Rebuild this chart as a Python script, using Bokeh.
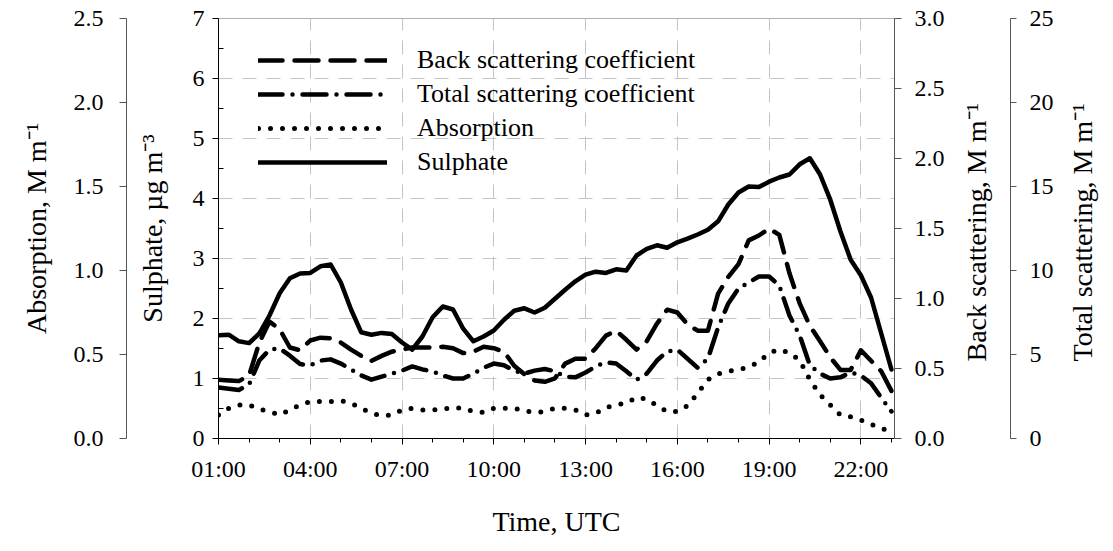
import math
from bokeh.plotting import figure
from bokeh.models import (Range1d, LinearAxis, FixedTicker, PrintfTickFormatter,
                          Legend, LegendItem)
from bokeh.embed import file_html
from bokeh.resources import INLINE

FONT = "Liberation Serif"
TICK_FS = "24px"
TITLE_FS = "28px"
LEGEND_FS = "26px"
PAD = "\u00a0" * 11   # shifts the bottom-anchored right titles up to the middle

# sampling grid: every 20 minutes from 01:00 to 23:00 (hours)
time_h = [1 + k / 3 for k in range(67)]

tick_hours = [1, 4, 7, 10, 13, 16, 19, 22]
tick_labels = ["01:00", "04:00", "07:00", "10:00", "13:00", "16:00", "19:00", "22:00"]

# Sulphate, ug m-3
sulphate = [1.72, 1.73, 1.62, 1.59, 1.75, 2.05, 2.42, 2.67, 2.75, 2.76, 2.87, 2.90,
            2.60, 2.15, 1.77, 1.73, 1.76, 1.74, 1.60, 1.48, 1.70, 2.02, 2.20, 2.15,
            1.83, 1.62, 1.70, 1.80, 1.98, 2.13, 2.17, 2.10, 2.18, 2.33, 2.48, 2.62,
            2.73, 2.78, 2.76, 2.82, 2.80, 3.05, 3.16, 3.22, 3.18, 3.27, 3.33, 3.40,
            3.48, 3.62, 3.90, 4.10, 4.20, 4.19, 4.28, 4.35, 4.40, 4.57, 4.67, 4.40,
            3.98, 3.45, 2.98, 2.72, 2.35, 1.75, 1.15]

# Back scattering, M m-1
back_scat = [0.42, 0.415, 0.41, 0.45, 0.685, 0.835, 0.78, 0.65, 0.63, 0.70, 0.72, 0.715,
             0.685, 0.635, 0.59, 0.555, 0.59, 0.62, 0.635, 0.65, 0.65, 0.65, 0.655, 0.645,
             0.61, 0.62, 0.655, 0.645, 0.62, 0.52, 0.46, 0.415, 0.405, 0.43, 0.535, 0.57,
             0.57, 0.645, 0.735, 0.77, 0.705, 0.635, 0.695, 0.82, 0.92, 0.90, 0.815, 0.77,
             0.77, 1.035, 1.155, 1.245, 1.415, 1.45, 1.50, 1.455, 1.18, 0.965, 0.805, 0.695,
             0.58, 0.49, 0.49, 0.63, 0.555, 0.48, 0.34]

# Total scattering, M m-1
total_scat = [3.04, 2.96, 2.89, 3.21, 4.64, 5.29, 5.36, 4.93, 4.43, 4.36, 4.64, 4.71,
              4.46, 4.11, 3.75, 3.50, 3.68, 3.86, 4.04, 4.29, 4.11, 4.00, 3.75, 3.57,
              3.57, 3.86, 4.21, 4.46, 4.36, 4.04, 3.86, 4.04, 4.14, 4.00, 3.68, 3.64,
              3.93, 4.29, 4.54, 4.46, 4.00, 3.50, 3.86, 4.64, 5.18, 5.29, 4.75, 4.21,
              4.75, 6.61, 8.04, 8.93, 9.29, 9.64, 9.64, 9.11, 7.32, 6.14, 4.36, 3.86,
              3.57, 3.64, 3.93, 3.75, 3.29, 2.43, 1.61]

# Absorption, M m-1
absorption = [0.14, 0.18, 0.20, 0.20, 0.175, 0.16, 0.14, 0.17, 0.20, 0.22, 0.22, 0.22,
              0.225, 0.21, 0.18, 0.15, 0.135, 0.14, 0.17, 0.18, 0.17, 0.17, 0.175, 0.185,
              0.18, 0.16, 0.155, 0.18, 0.18, 0.18, 0.165, 0.155, 0.16, 0.18, 0.18, 0.17,
              0.14, 0.15, 0.185, 0.20, 0.21, 0.245, 0.235, 0.195, 0.16, 0.16, 0.195, 0.27,
              0.35, 0.385, 0.40, 0.41, 0.425, 0.455, 0.51, 0.53, 0.51, 0.465, 0.35, 0.26,
              0.20, 0.14, 0.13, 0.11, 0.085, 0.06, 0.04]

p = figure(frame_width=676, frame_height=420,
           x_range=Range1d(1, 23.1), y_range=Range1d(0, 7),
           output_backend="svg", toolbar_location=None,
           min_border_left=218, min_border_top=18, min_border_right=0, min_border_bottom=0,
           background_fill_color="white", border_fill_color="white")
p.outline_line_color = "#b0b0b0"
p.extra_y_ranges = {"abs": Range1d(0, 2.5), "back": Range1d(0, 3), "tot": Range1d(0, 25)}


def style_axis(ax, line_color="black"):
    ax.axis_line_color = line_color
    ax.major_tick_line_color = line_color
    ax.minor_tick_line_color = line_color
    ax.major_label_text_font = FONT
    ax.major_label_text_font_size = TICK_FS
    ax.major_label_text_color = "black"
    ax.axis_label_text_font = FONT
    ax.axis_label_text_font_size = TITLE_FS
    ax.axis_label_text_font_style = "normal"
    ax.axis_label_text_color = "black"


# x axis
xa = p.xaxis[0]
style_axis(xa)
xa.ticker = FixedTicker(ticks=tick_hours, minor_ticks=list(range(1, 24)))
xa.major_label_overrides = {h: lab for h, lab in zip(tick_hours, tick_labels)}
xa.major_tick_out = 6
xa.major_tick_in = 0
xa.minor_tick_out = 4
xa.minor_tick_in = 0
xa.major_label_standoff = 11
xa.axis_label = "Time, UTC"
xa.axis_label_standoff = 21

# sulphate axis (primary left)
ya = p.yaxis[0]
style_axis(ya)
ya.ticker = FixedTicker(ticks=list(range(0, 8)), minor_ticks=[0.5 + i for i in range(7)])
ya.major_tick_out = 6
ya.major_tick_in = 0
ya.minor_tick_out = 0
ya.minor_tick_in = 5
ya.major_label_standoff = 8
ya.axis_label = "Sulphate, µg m⁻³"
ya.axis_label_standoff = 22

# grids
p.xgrid.grid_line_color = "#c4c4c4"
p.xgrid.grid_line_dash = "14 10"
p.ygrid.grid_line_color = "#c4c4c4"
p.ygrid.grid_line_dash = "14 10"

# blank gap between the sulphate title and the absorption axis
gap = LinearAxis(ticker=FixedTicker(ticks=[3.5], minor_ticks=[]),
                 axis_line_color=None, major_tick_line_color="white",
                 minor_tick_line_color=None, major_tick_out=7, major_tick_in=0,
                 minor_tick_out=0, minor_tick_in=0, major_label_standoff=0,
                 major_label_overrides={3.5: ""}, major_label_text_font_size="1px")
p.add_layout(gap, "left")

abs_ax = LinearAxis(y_range_name="abs",
                    ticker=FixedTicker(ticks=[0, 0.5, 1.0, 1.5, 2.0, 2.5], minor_ticks=[]),
                    formatter=PrintfTickFormatter(format="%.1f"))
style_axis(abs_ax, "#555555")
abs_ax.major_tick_out = 7
abs_ax.major_tick_in = 0
abs_ax.minor_tick_out = 0
abs_ax.minor_tick_in = 0
abs_ax.major_label_standoff = 16
abs_ax.axis_label = "Absorption, M m⁻¹"
abs_ax.axis_label_standoff = 19
p.add_layout(abs_ax, "left")

back_ax = LinearAxis(y_range_name="back",
                     ticker=FixedTicker(ticks=[0, 0.5, 1.0, 1.5, 2.0, 2.5, 3.0], minor_ticks=[]),
                     formatter=PrintfTickFormatter(format="%.1f"))
style_axis(back_ax, "#555555")
back_ax.major_tick_out = 7
back_ax.major_tick_in = 0
back_ax.minor_tick_out = 0
back_ax.minor_tick_in = 0
back_ax.major_label_standoff = 13
back_ax.axis_label = PAD + "Back scattering, M m⁻¹"
back_ax.axis_label_orientation = math.pi / 2
back_ax.axis_label_align = "start"
back_ax.axis_label_standoff = 29
p.add_layout(back_ax, "right")

tot_ax = LinearAxis(y_range_name="tot",
                    ticker=FixedTicker(ticks=[0, 5, 10, 15, 20, 25], minor_ticks=[]),
                    formatter=PrintfTickFormatter(format="%d"))
style_axis(tot_ax, "#555555")
tot_ax.major_tick_out = 6
tot_ax.major_tick_in = 0
tot_ax.minor_tick_out = 0
tot_ax.minor_tick_in = 0
tot_ax.major_label_standoff = 13
tot_ax.axis_label = PAD + "Total scattering, M m⁻¹"
tot_ax.axis_label_orientation = math.pi / 2
tot_ax.axis_label_align = "start"
tot_ax.axis_label_standoff = 26
p.add_layout(tot_ax, "right")

LW = 4.5
r_back = p.line(time_h, back_scat, y_range_name="back", line_color="black", line_width=LW,
                line_dash="24 12", line_cap="round", line_join="round")
r_tot = p.line(time_h, total_scat, y_range_name="tot", line_color="black", line_width=LW,
               line_dash="24 10 0 10", line_cap="round", line_join="round")
r_abs = p.line(time_h, absorption, y_range_name="abs", line_color="black", line_width=5,
               line_dash="0 12", line_cap="round", line_join="round")
r_sul = p.line(time_h, sulphate, line_color="black", line_width=LW,
               line_cap="round", line_join="round")

legend = Legend(items=[
    LegendItem(label="Back scattering coefficient", renderers=[r_back]),
    LegendItem(label="Total scattering coefficient", renderers=[r_tot]),
    LegendItem(label="Absorption", renderers=[r_abs]),
    LegendItem(label="Sulphate", renderers=[r_sul]),
], location=(40, 259), glyph_width=129, glyph_height=34, label_height=34,
    label_standoff=30, spacing=0, padding=0, margin=0,
    border_line_color=None, background_fill_alpha=0,
    label_text_font=FONT, label_text_font_size=LEGEND_FS, label_text_color="black")
p.add_layout(legend)

open("out.html", "w").write(file_html(p, INLINE))
